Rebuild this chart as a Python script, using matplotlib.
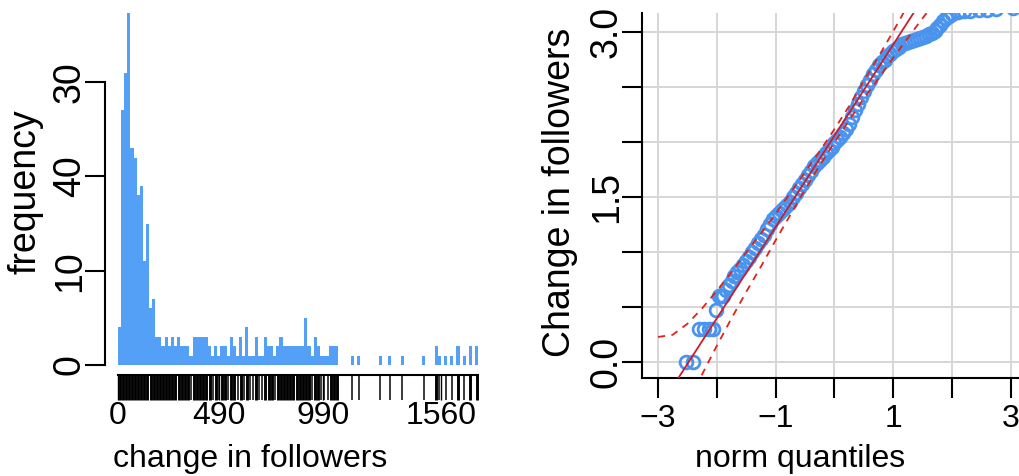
import numpy as np
import matplotlib
matplotlib.use('Agg')
import matplotlib.pyplot as plt
from matplotlib import font_manager

# ---- left panel: histogram of change in followers (bins of 15) ----
bin_width = 15
hist_counts = [4, 27, 31, 40, 23, 22, 18, 19, 11, 15,
               6, 7, 3, 3, 2, 3, 2, 3, 2, 3,
               2, 2, 2, 1, 3, 3, 3, 3, 3, 2,
               1, 2, 1, 2, 2, 1, 3, 2, 1, 3,
               1, 4, 1, 1, 3, 1, 1, 3, 2, 2,
               1, 2, 3, 2, 2, 2, 2, 2, 2, 2,
               5, 2, 1, 3, 2, 1, 1, 1, 2, 2,
               2, 0, 0, 0, 0, 1, 0, 1, 0, 0,
               0, 0, 0, 0, 1, 0, 0, 1, 0, 0,
               0, 1, 0, 0, 0, 0, 0, 0, 1, 0,
               0, 0, 2, 1, 0, 1, 0, 1, 0, 2,
               0, 1, 0, 2, 0, 2]
hist_xticks = [0, 490, 990, 1560]
hist_yticks = [0, 10, 20, 30]
hist_ylabels = ['0', '10', '40', '30']

# ---- right panel: normal QQ plot of log10 change in followers ----
qq_theo = [-2.52, -2.41, -2.31, -2.22, -2.14, -2.07, -2.02, -1.97, -1.93, -1.89,
           -1.85, -1.80, -1.75, -1.70, -1.65, -1.60, -1.55, -1.50, -1.45, -1.40,
           -1.35, -1.30, -1.25, -1.20, -1.15, -1.10, -1.05, -1.00, -0.95, -0.90,
           -0.85, -0.80, -0.75, -0.70, -0.65, -0.60, -0.55, -0.50, -0.45, -0.40,
           -0.35, -0.30, -0.25, -0.20, -0.15, -0.10, -0.05, 0.00, 0.05, 0.10,
           0.15, 0.20, 0.25, 0.30, 0.35, 0.40, 0.45, 0.50, 0.55, 0.60,
           0.65, 0.70, 0.75, 0.80, 0.85, 0.90, 0.95, 1.00, 1.05, 1.10,
           1.15, 1.20, 1.25, 1.30, 1.35, 1.40, 1.45, 1.50, 1.55, 1.60,
           1.65, 1.70, 1.75, 1.80, 1.85, 1.90, 1.95, 2.00, 2.10, 2.20,
           2.30, 2.45, 2.60, 2.75, 3.03]
qq_sample = [0.0, 0.0, 0.301, 0.301, 0.301, 0.301, 0.477, 0.602, 0.602, 0.602,
             0.66, 0.70, 0.74, 0.78, 0.82, 0.85, 0.88, 0.92, 0.96, 1.00,
             1.04, 1.08, 1.12, 1.16, 1.21, 1.26, 1.30, 1.33, 1.36, 1.38,
             1.40, 1.43, 1.46, 1.50, 1.54, 1.58, 1.62, 1.66, 1.70, 1.74,
             1.78, 1.81, 1.84, 1.87, 1.90, 1.93, 1.96, 1.99, 2.02, 2.05,
             2.08, 2.12, 2.17, 2.23, 2.29, 2.35, 2.41, 2.47, 2.52, 2.57,
             2.62, 2.66, 2.70, 2.73, 2.75, 2.78, 2.80, 2.83, 2.85, 2.87,
             2.89, 2.90, 2.91, 2.92, 2.93, 2.94, 2.95, 2.96, 2.97, 2.98,
             2.99, 3.01, 3.04, 3.07, 3.10, 3.13, 3.15, 3.17, 3.18, 3.19,
             3.19, 3.20, 3.20, 3.21, 3.22]
ref_intercept = 2.06
ref_slope = 0.83
env_x = [-3.0, -2.75, -2.5, -2.25, -2.0, -1.75, -1.5, -1.25, -1.0, -0.75,
         -0.5, -0.25, 0.0, 0.25, 0.5, 0.75, 1.0, 1.25, 1.5, 1.75]
env_upper = [0.23, 0.25, 0.35, 0.49, 0.65, 0.82, 1.00, 1.17, 1.35, 1.54,
             1.73, 1.92, 2.12, 2.33, 2.56, 2.78, 3.01, 3.25, 3.49, 3.72]
env_lower = [-1.2, -0.9, -0.38, -0.11, 0.15, 0.40, 0.64, 0.87, 1.11, 1.34,
             1.57, 1.79, 2.00, 2.20, 2.40, 2.58, 2.77, 2.95, 3.13, 3.30]
qq_xticks = [-3, -2, -1, 0, 1, 2, 3]
qq_xlabels = ['\u22123', '', '\u22121', '', '1', '', '3']
qq_yticks = [0.0, 0.5, 1.0, 1.5, 2.0, 2.5, 3.0]
qq_ylabels = ['0.0', '', '', '1.5', '', '', '3.0']

# fonts: the picture is stretched vertically, a narrow face mimics that
names = {f.name for f in font_manager.fontManager.ttflist}
if 'Liberation Sans Narrow' in names:
    hfont, hsize = 'Liberation Sans Narrow', 28
else:
    hfont, hsize = 'Liberation Sans', 23
vfont, vsize = 'Liberation Sans', 27

W, H = 1019, 476
fig = plt.figure(figsize=(W / 100, H / 100), dpi=100)
PT = 0.72  # points per pixel at dpi 100

bar_col = '#55a0f7'
pt_col = '#4a94ee'

# ---------------- histogram ----------------
ax1 = fig.add_axes([105 / W, 1 - 375 / H, 380 / W, 362 / H])
counts = np.array(hist_counts)
edges = np.arange(len(counts) + 1) * bin_width
ax1.bar(edges[:-1], counts, width=bin_width, align='edge', color=bar_col,
        linewidth=0)
ax1.set_xlim(-62.8, 1773)
ax1.set_ylim(-1.06, 37.33)

# rug of the observed values under the bars
nz = counts > 0
centers = (edges[:-1] + bin_width / 2)[nz]
rug_lw = np.where(counts[nz] > 1, 2.9, 1.5) * PT
ax1.vlines(centers, 0, -25 / 362, transform=ax1.get_xaxis_transform(),
           colors='black', linewidths=rug_lw, clip_on=False)

for s in ['top', 'right']:
    ax1.spines[s].set_visible(False)
ax1.spines['left'].set_bounds(0, 30)
ax1.spines['bottom'].set_bounds(edges[0], edges[-1])
for s in ['left', 'bottom']:
    ax1.spines[s].set_linewidth(1.5)

ax1.set_xticks(hist_xticks, [str(v) for v in hist_xticks])
ax1.tick_params(axis='x', length=25 * PT, width=1.0, pad=1.5 * PT)
for lab in ax1.get_xticklabels():
    lab.set_family(hfont)
    lab.set_fontsize(hsize)
ax1.set_yticks(hist_yticks, hist_ylabels)
ax1.tick_params(axis='y', length=20 * PT, width=1.5, pad=-2)
for lab in ax1.get_yticklabels():
    lab.set_family(vfont)
    lab.set_fontsize(vsize)
    lab.set_rotation(90)
    lab.set_va('center')

# ---------------- QQ plot ----------------
ax2 = fig.add_axes([642 / W, 1 - 378 / H, 388 / W, 365 / H])
ax2.set_xlim(-3.272, 3.323)
ax2.set_ylim(-0.143, 3.175)
ax2.set_axisbelow(True)
ax2.grid(True, color='#d6d6d6', linewidth=1.4)
ax2.plot(qq_theo, qq_sample, 'o', mfc='none', mec=pt_col, ms=9.2, mew=2.0,
         zorder=2)
ax2.axline((0, ref_intercept), slope=ref_slope, color='#c81e32', lw=1.3,
           zorder=3)
ax2.plot(env_x, env_upper, color='#e0221c', lw=1.3, dashes=(4, 3.5), zorder=3)
ax2.plot(env_x, env_lower, color='#e0221c', lw=1.3, dashes=(4, 3.5), zorder=3)

for s in ['top', 'right']:
    ax2.spines[s].set_visible(False)
for s in ['left', 'bottom']:
    ax2.spines[s].set_linewidth(1.5)

ax2.set_xticks(qq_xticks, qq_xlabels)
ax2.tick_params(axis='x', length=20 * PT, width=1.5, pad=6 * PT)
for lab in ax2.get_xticklabels():
    lab.set_family(hfont)
    lab.set_fontsize(hsize)
ax2.set_yticks(qq_yticks, qq_ylabels)
ax2.tick_params(axis='y', length=20 * PT, width=1.5, pad=-2)
for lab in ax2.get_yticklabels():
    lab.set_family(vfont)
    lab.set_fontsize(vsize)
    lab.set_rotation(90)
    lab.set_va('center')

# axis titles
fig.text(26 / W, 1 - 192 / H, 'frequency', rotation=90, ha='center',
         va='center', family=vfont, fontsize=vsize)
fig.text(250 / W, 1 - 467 / H, 'change in followers', ha='center',
         va='baseline', family=hfont, fontsize=hsize)
fig.text(560 / W, 1 - 192 / H, 'Change in followers', rotation=90,
         ha='center', va='center', family=vfont, fontsize=vsize)
fig.text(800 / W, 1 - 467 / H, 'norm quantiles', ha='center',
         va='baseline', family=hfont, fontsize=hsize)

fig.savefig('out.png', dpi=100)
